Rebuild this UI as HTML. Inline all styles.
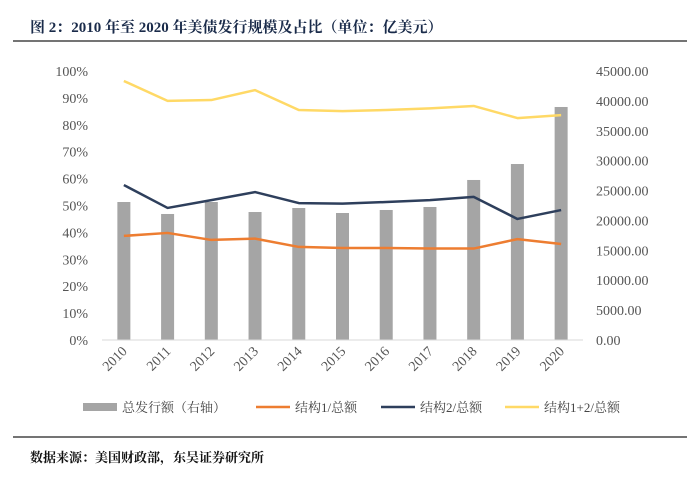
<!DOCTYPE html>
<html><head><meta charset="utf-8"><style>
body{margin:0;background:#fff;width:700px;height:481px;overflow:hidden;font-family:"Liberation Serif","Noto Serif CJK SC",serif}
svg text{font-family:"Liberation Serif","Noto Serif CJK SC",serif}
</style></head><body>
<svg id="c" width="700" height="481">
<text x="30" y="32" font-size="15" font-weight="bold" fill="#1a2b4a">图 2：2010 年至 2020 年美债发行规模及占比（单位：亿美元）</text>
<line x1="13" y1="41" x2="687" y2="41" stroke="#222" stroke-width="1.2"/>
<line x1="13" y1="437" x2="687" y2="437" stroke="#222" stroke-width="1.2"/>
<text x="30" y="462" font-size="13" font-weight="bold" fill="#111">数据来源：美国财政部，东吴证券研究所</text>
<g id="plot"></g>
<g>
<rect x="83" y="403" width="34" height="8" fill="#a5a5a5"/>
<text x="122" y="412" font-size="13" fill="#444">总发行额（右轴）</text>
<line x1="256" y1="407" x2="290" y2="407" stroke="#ed7d31" stroke-width="2.5"/>
<text x="295" y="412" font-size="13" fill="#444">结构1/总额</text>
<line x1="381" y1="407" x2="415" y2="407" stroke="#2e3f5c" stroke-width="2.5"/>
<text x="420" y="412" font-size="13" fill="#444">结构2/总额</text>
<line x1="505" y1="407" x2="539" y2="407" stroke="#ffd966" stroke-width="2.5"/>
<text x="544" y="412" font-size="13" fill="#444">结构1+2/总额</text>
</g>
</svg>
<script>
const years=["2010","2011","2012","2013","2014","2015","2016","2017","2018","2019","2020"];
const totals=[23085,21080,23085,21410,22080,21245,21750,22250,26770,29440,38980];
const s1=[38.7,39.8,37.2,37.7,34.6,34.2,34.2,34.0,34.0,37.5,35.7];
const s2=[57.6,49.1,52.0,55.0,50.9,50.7,51.3,52.0,53.2,45.0,48.3];
const s12=[96.3,88.9,89.2,92.9,85.5,85.1,85.5,86.1,87.0,82.5,83.6];
const leftTicks=[0,10,20,30,40,50,60,70,80,90,100];
const rightTicks=[0,5000,10000,15000,20000,25000,30000,35000,40000,45000];
const NS="http://www.w3.org/2000/svg";
const g=document.getElementById('plot');
const yTop=71,bot=340,x0=102,x1=583;
const yL=v=>bot-(v/100)*(bot-yTop);
const yR=v=>bot-(v/45000)*(bot-yTop);
const step=(x1-x0)/years.length;
const xc=i=>x0+step*(i+0.5);
function mk(t,a){const e=document.createElementNS(NS,t);for(const k in a)e.setAttribute(k,a[k]);g.appendChild(e);return e;}
leftTicks.forEach(v=>{const t=mk('text',{x:88,y:yL(v)+5,'font-size':14,fill:'#555','text-anchor':'end'});t.textContent=v+'%';

});
rightTicks.forEach(v=>{const t=mk('text',{x:596,y:yR(v)+5,'font-size':14,fill:'#555'});t.textContent=v.toFixed(2);

});
years.forEach((y,i)=>{const b=mk('rect',{x:xc(i)-6.5,y:yR(totals[i]),width:13,height:bot-yR(totals[i]),fill:'#a5a5a5'});


const t=mk('text',{x:xc(i)+4,y:352,'font-size':14,fill:'#555','text-anchor':'end',transform:`rotate(-45 ${xc(i)+4} 352)`});t.textContent=y;

});
const ax=mk('line',{x1:x0,y1:bot,x2:x1,y2:bot,stroke:'#d9d9d9','stroke-width':1});


[[s1,'#ed7d31','line-structure1'],[s2,'#2e3f5c','line-structure2'],[s12,'#ffd966','line-structure1-2']].forEach(([d,c,n])=>{
const p=mk('polyline',{points:d.map((v,i)=>xc(i)+','+yL(v)).join(' '),fill:'none',stroke:c,'stroke-width':2.5,'stroke-linejoin':'round'});

});
</script>
</body></html>
